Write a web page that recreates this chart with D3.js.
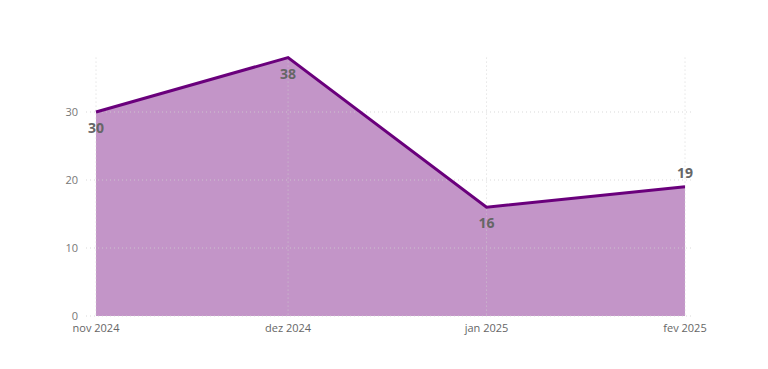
<!DOCTYPE html>
<html>
<head>
<meta charset="utf-8">
<script src="https://cdn.jsdelivr.net/npm/d3@7"></script>
<style>
  body { margin: 0; background: #fff; }
</style>
</head>
<body>
<div class="center"></div>
<script>
var months = ["2024-11-01", "2024-12-01", "2025-01-01", "2025-02-01"];
var monthLabels = ["nov 2024", "dez 2024", "jan 2025", "fev 2025"];
var values = [30, 38, 16, 19];
var yTicks = [0, 10, 20, 30];
// where each data label sits relative to its point
var labelPos = ["below", "below", "below", "above"];

var width = 768,
    height = 369;
var margin = {top: 57.6, right: 83, bottom: 53, left: 96};

var parse = d3.timeParse("%Y-%m-%d");
var dates = months.map(parse);
var data = dates.map(function(d, i) { return {date: d, value: values[i], label: monthLabels[i], pos: labelPos[i]}; });

var svg = d3.select(".center").append("svg")
    .attr("width", width)
    .attr("height", height);

var x = d3.scaleTime()
    .domain(d3.extent(dates))
    .range([margin.left, width - margin.right]);

var y = d3.scaleLinear()
    .domain([0, d3.max(values)])
    .range([height - margin.bottom, margin.top]);

var font = "'Open Sans', 'Noto Sans', sans-serif";

var area = d3.area()
    .x(function(d) { return x(d.date); })
    .y0(y(0))
    .y1(function(d) { return y(d.value); });

var line = d3.line()
    .x(function(d) { return x(d.date); })
    .y(function(d) { return y(d.value); });

svg.append("path")
    .datum(data)
    .attr("d", area)
    .attr("fill", "#c395c8");

// horizontal grid (drawn over the area, as in the original)
svg.append("g")
    .selectAll("line")
    .data(yTicks)
    .enter().append("line")
    .attr("x1", margin.left - 10)
    .attr("x2", width - margin.right + 8)
    .attr("y1", function(d) { return y(d); })
    .attr("y2", function(d) { return y(d); })
    .attr("stroke", "#d0d0d0")
    .attr("stroke-opacity", 0.8)
    .attr("stroke-width", 1)
    .attr("stroke-dasharray", "1,3");

// vertical grid
svg.append("g")
    .selectAll("line")
    .data(dates)
    .enter().append("line")
    .attr("x1", function(d) { return x(d); })
    .attr("x2", function(d) { return x(d); })
    .attr("y1", y(d3.max(values)))
    .attr("y2", y(0))
    .attr("stroke", "#d0d0d0")
    .attr("stroke-opacity", 0.8)
    .attr("stroke-width", 1)
    .attr("stroke-dasharray", "1,3");

svg.append("path")
    .datum(data)
    .attr("d", line)
    .attr("fill", "none")
    .attr("stroke", "#6a007c")
    .attr("stroke-width", 3)
    .attr("stroke-linejoin", "miter");

// y axis labels
svg.append("g")
    .selectAll("text")
    .data(yTicks)
    .enter().append("text")
    .attr("x", margin.left - 18)
    .attr("y", function(d) { return y(d); })
    .attr("dy", "0.35em")
    .attr("text-anchor", "end")
    .attr("font-family", font)
    .attr("font-size", "11px")
    .attr("fill", "#777")
    .text(function(d) { return d; });

// x axis labels
svg.append("g")
    .selectAll("text")
    .data(data)
    .enter().append("text")
    .attr("x", function(d) { return x(d.date); })
    .attr("y", y(0) + 16)
    .attr("text-anchor", "middle")
    .attr("font-family", font)
    .attr("font-size", "11px")
    .attr("fill", "#666")
    .text(function(d) { return d.label; });

// data labels
svg.append("g")
    .selectAll("text")
    .data(data)
    .enter().append("text")
    .attr("x", function(d) { return x(d.date); })
    .attr("y", function(d) { return d.pos === "below" ? y(d.value) + 21 : y(d.value) - 9; })
    .attr("text-anchor", "middle")
    .attr("font-family", font)
    .attr("font-size", "14px")
    .attr("font-weight", "bold")
    .attr("fill", "#666")
    .text(function(d) { return d.value; });
</script>
</body>
</html>
